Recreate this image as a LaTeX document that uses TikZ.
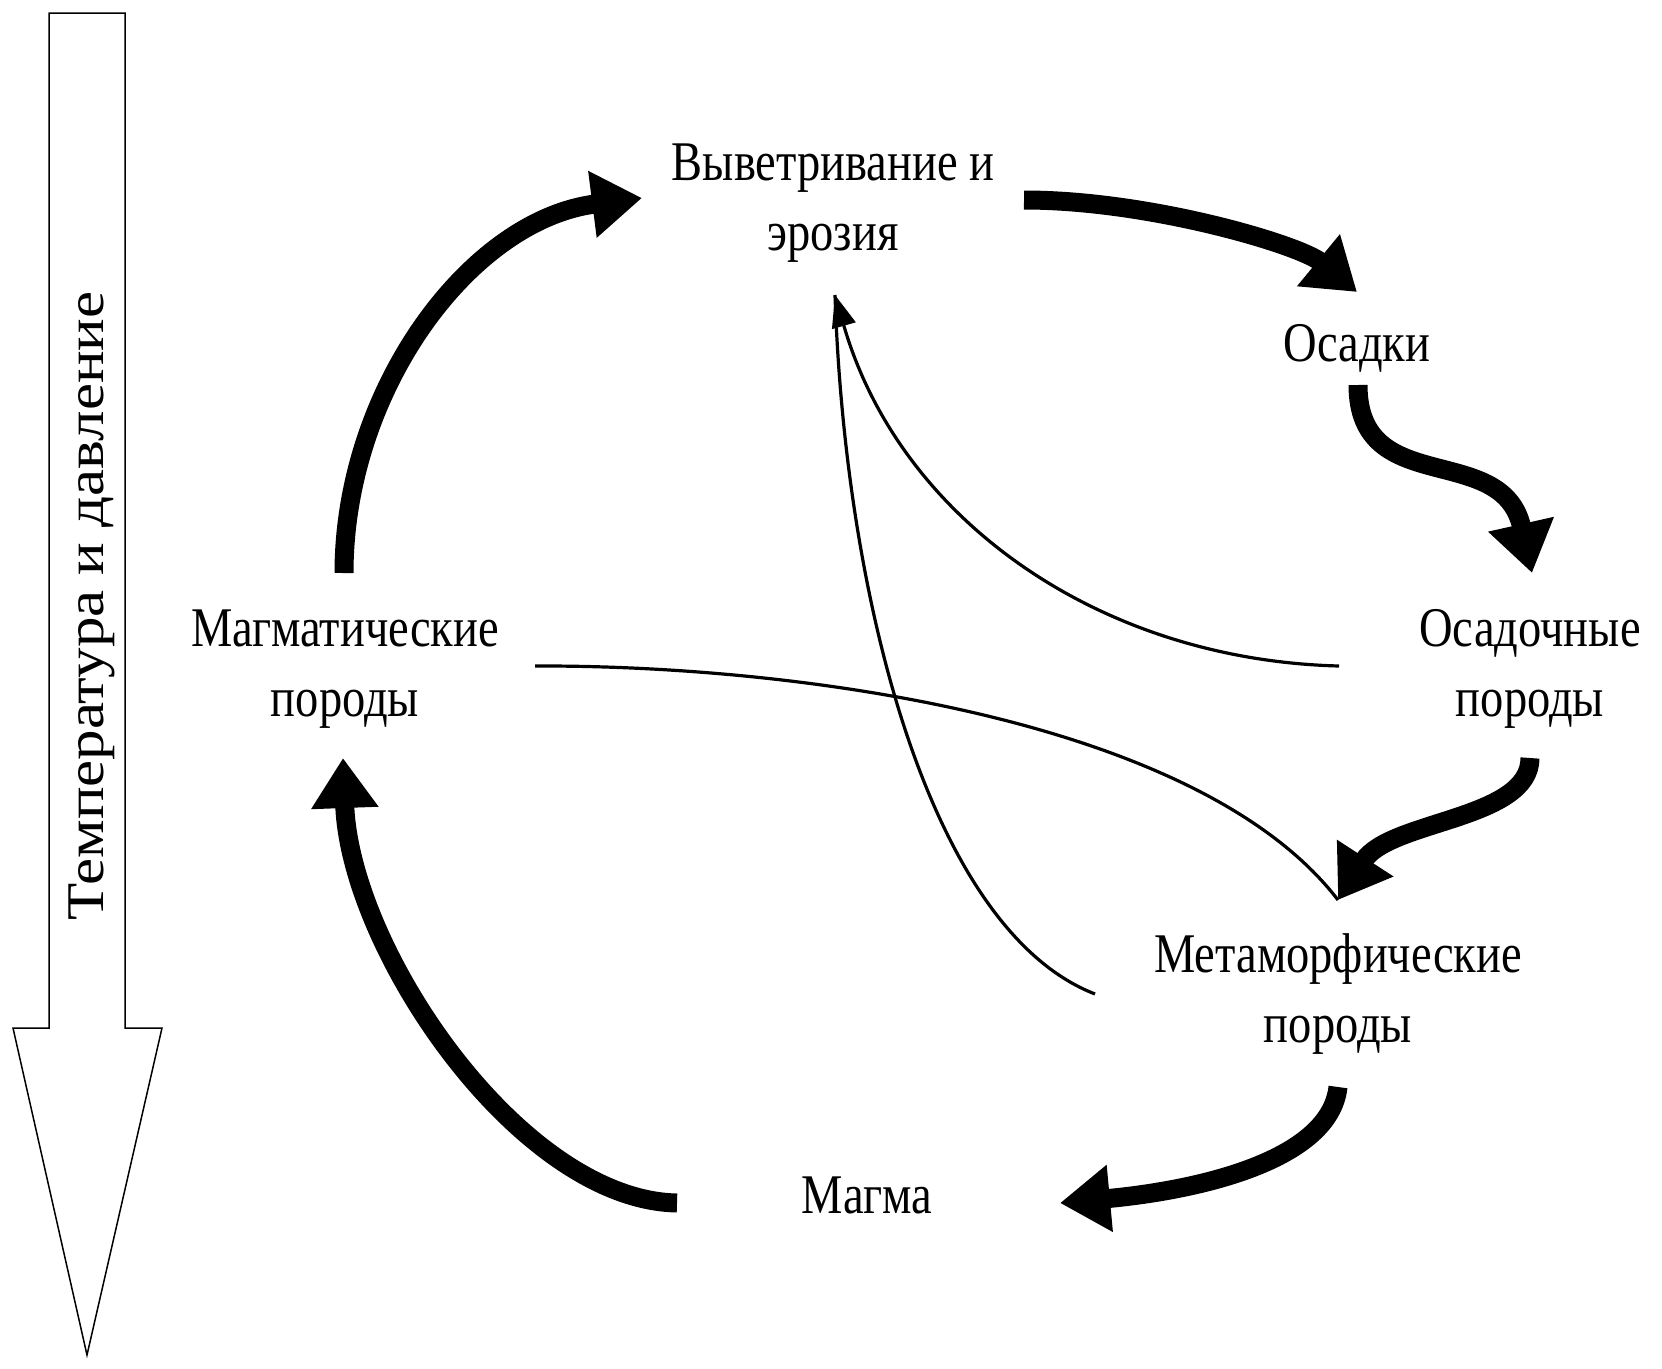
\documentclass[tikz,border=0pt]{standalone}
\usepackage{fontspec}
\setmainfont{Liberation Serif}[FakeStretch=0.83]
\newfontfamily\vertfont{Liberation Serif}[FakeStretch=1.15]
\usetikzlibrary{arrows.meta}
\begin{document}
\begin{tikzpicture}[x=1pt,y=-1pt,
  lbl/.style={font=\fontsize{56}{70}\selectfont, align=center, inner sep=0pt},
  thick arrow/.style={line width=19pt, -{Triangle[length=50pt 0,width=64pt 0]}},
  thin arrow/.style={line width=3.2pt, -{Triangle[length=32pt 0,width=24pt 0]}},
  thin line/.style={line width=3.2pt},
  bigarrow/.style={draw=black, line width=1.5pt, fill=white, line join=miter}]
\useasboundingbox (0,0) rectangle (1662,1368);

% big outline arrow on the left
\draw[bigarrow] (49,13) -- (125,13) -- (125,1028) -- (162,1028) -- (87,1355) -- (13,1028) -- (49,1028) -- cycle;
\node[font=\vertfont\fontsize{53}{60}\selectfont, rotate=90, inner sep=0pt] (tp) at (92,606) {Температура и давление};

% labels
\node[lbl] (wea) at (833,203) {Выветривание и\\эрозия};
\node[lbl] (sed) at (1357,348) {Осадки};
\node[lbl] (osp) at (1530,669) {Осадочные\\породы};
\node[lbl] (mag) at (345,669) {Магматические\\породы};
\node[lbl] (met) at (1338,994) {Метаморфические\\породы};
\node[lbl] (magma) at (867,1195) {Магма};

% connector end points
\coordinate (tipW) at (835,295);
\coordinate (tipM) at (1338,900);
\coordinate (ospL) at (1339,666);
\coordinate (metL) at (1095,994);
\coordinate (magR) at (535,666);

% thin connectors
\draw[thin line] (magR) .. controls (800,665) and (1200,720) .. (tipM);
\draw[thin line] (metL) .. controls (930,930) and (845,600) .. (tipW);
\draw[thin arrow] (ospL) .. controls (1100,660) and (900,520) .. (tipW);

% thick cycle arrows
\coordinate (a1s) at (344,573);
\coordinate (a1e) at (642,198);
\coordinate (a2s) at (1024,200);
\coordinate (a2e) at (1357,292);
\coordinate (a3s) at (1358,385);
\coordinate (a3e) at (1532,573);
\coordinate (a4s) at (1530,758);
\coordinate (a5s) at (1338,1087);
\coordinate (a5e) at (1060,1203);
\coordinate (a6s) at (677,1203);
\coordinate (a6e) at (343,758);

\draw[thick arrow] (a1s) .. controls (344,390) and (470,220) .. (a1e);
\draw[thick arrow] (a2s) .. controls (1150,200) and (1300,245) .. (a2e);
\draw[thick arrow] (a3s) .. controls (1358,500) and (1502,440) .. (a3e);
\draw[thick arrow] (a4s) .. controls (1530,820) and (1390,820) .. (tipM);
\draw[thick arrow] (a5s) .. controls (1330,1160) and (1200,1190) .. (a5e);
\draw[thick arrow] (a6s) .. controls (520,1200) and (350,950) .. (a6e);
\end{tikzpicture}
\end{document}
